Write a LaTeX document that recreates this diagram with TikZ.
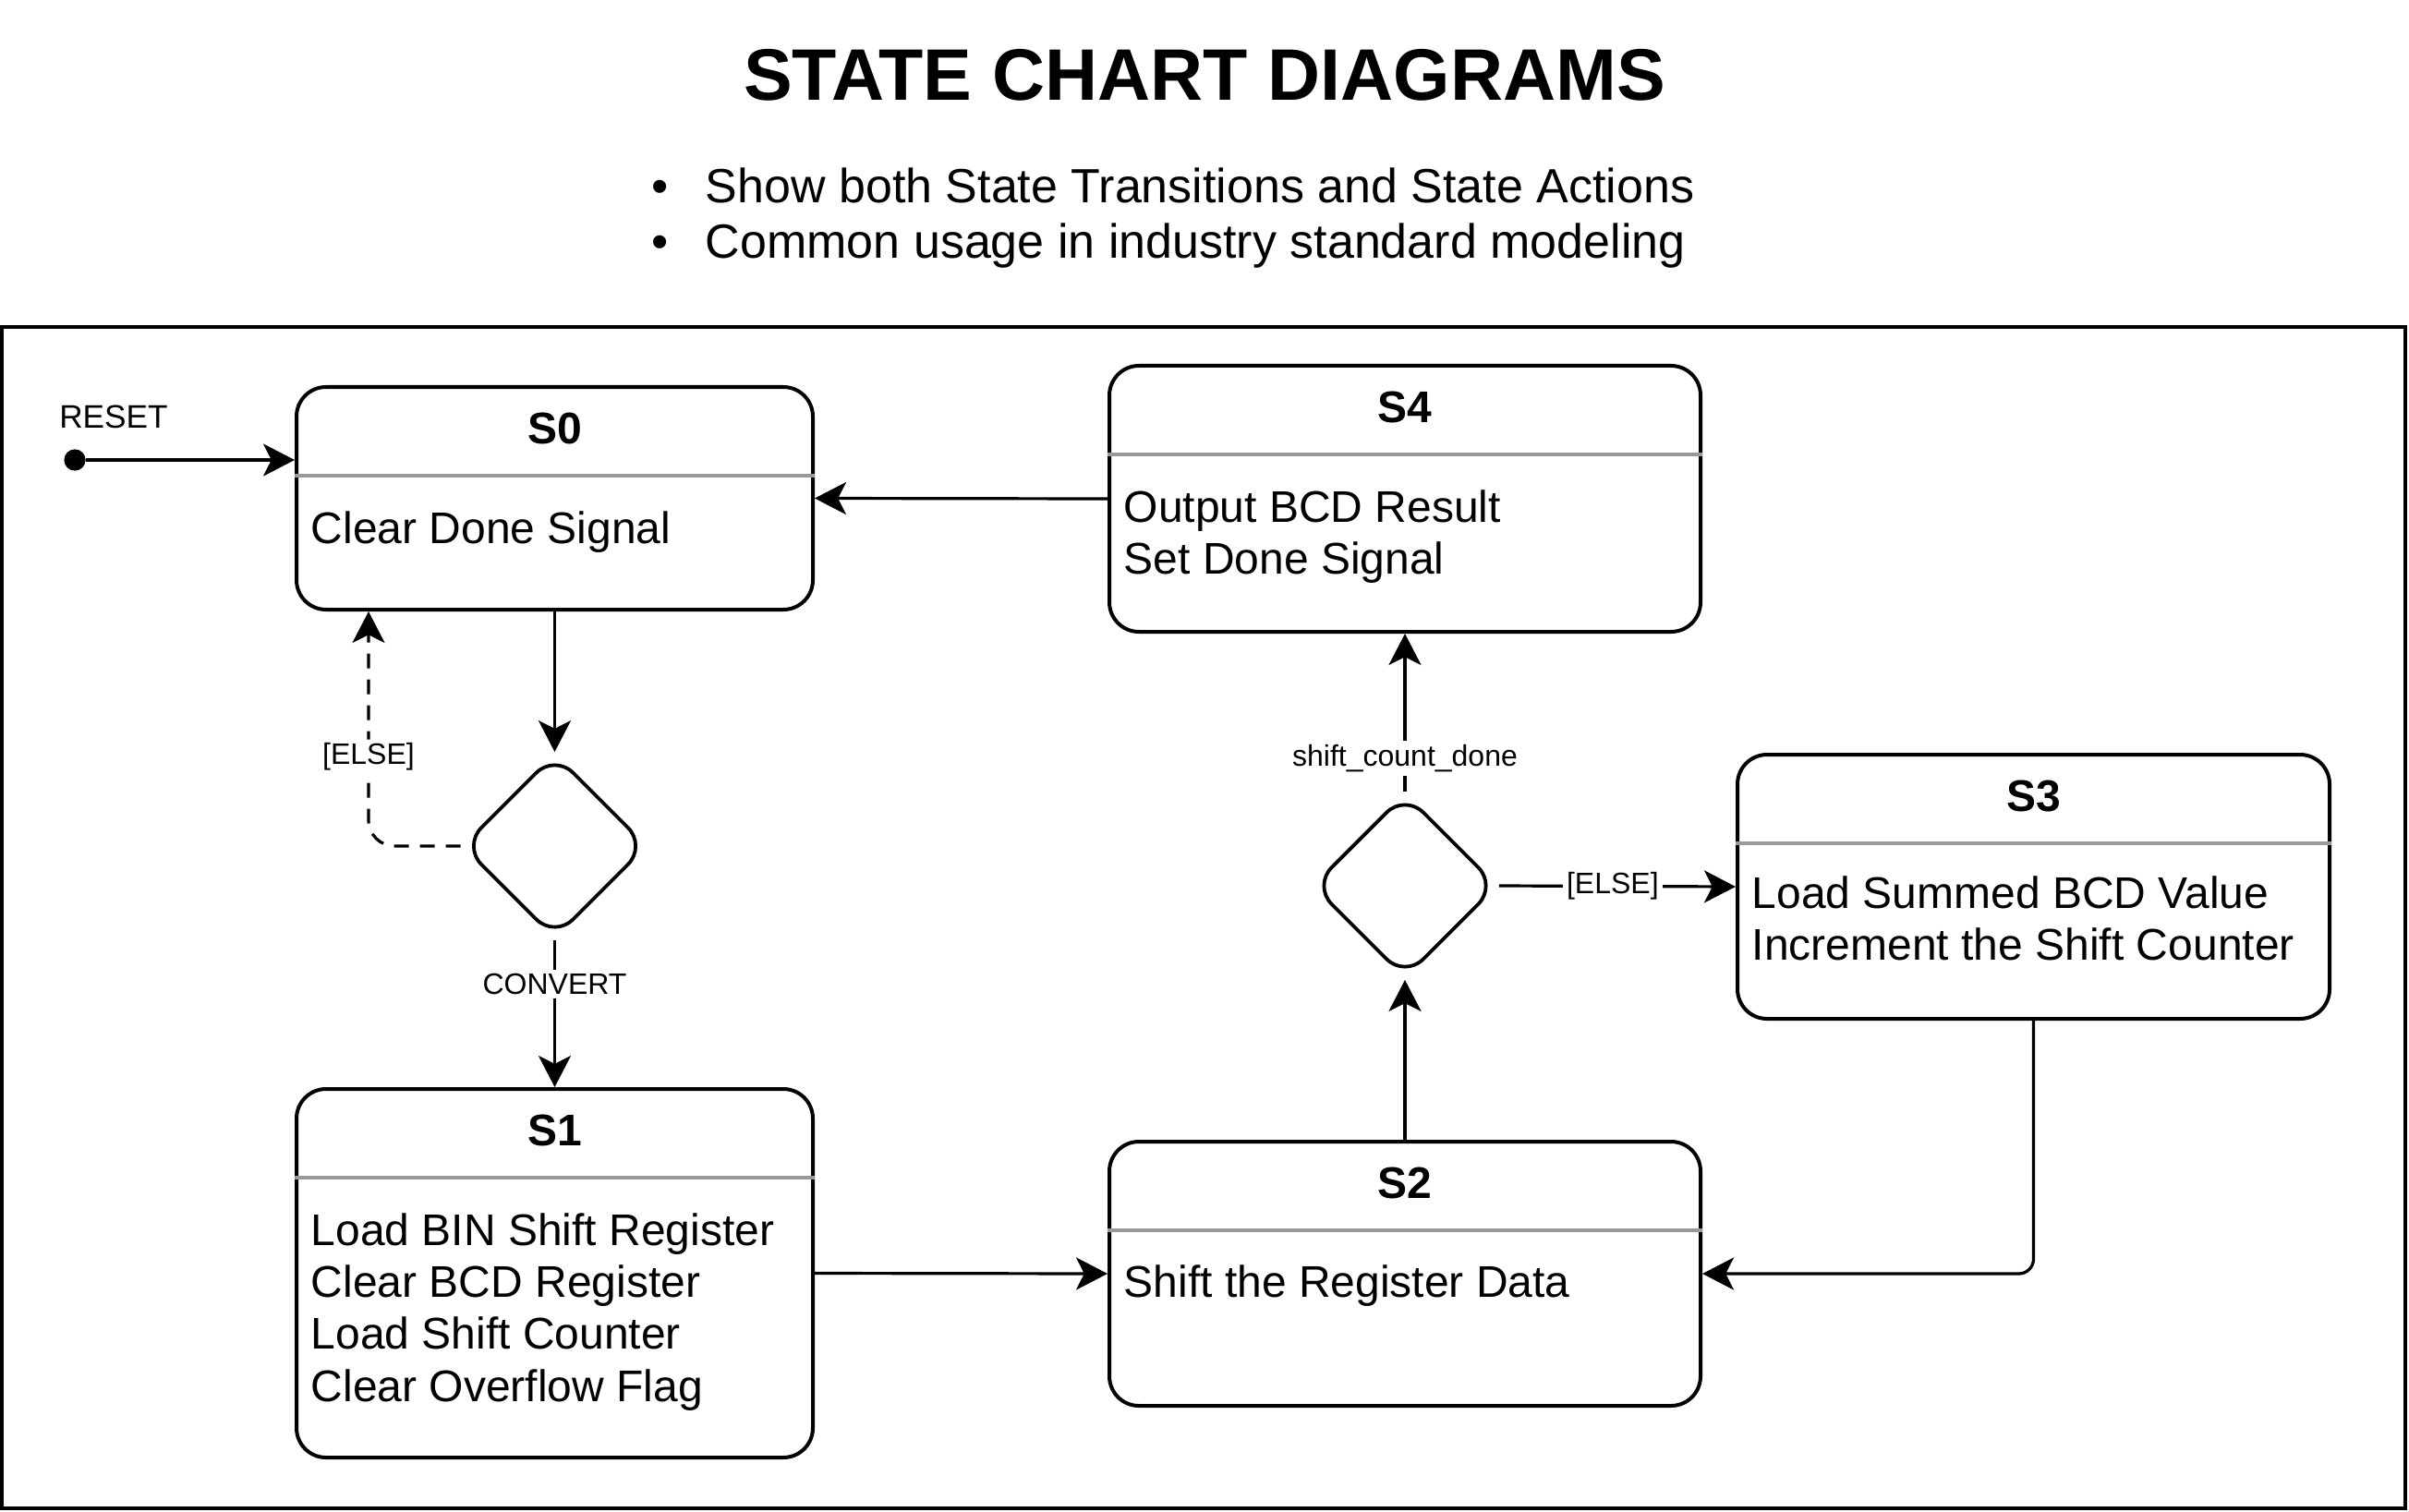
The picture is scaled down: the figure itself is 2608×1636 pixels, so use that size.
\documentclass[tikz,border=0pt]{standalone}
\usepackage{fontspec}
\setmainfont{Liberation Sans}
\usetikzlibrary{shapes.geometric,arrows.meta}
\definecolor{divgray}{RGB}{153,153,153}
\tikzset{
  statebox/.style={draw, line width=1pt, rounded corners=8pt, inner sep=0pt},
  stitle/.style={font=\bfseries\fontsize{12}{14}\selectfont, anchor=base, inner sep=0pt},
  sbody/.style={font=\fontsize{12}{14.08}\selectfont, anchor=north west, align=left, inner sep=0pt},
  divider/.style={line width=1pt, draw=divgray},
  decision/.style={diamond, draw, line width=0.95pt, minimum width=50pt, minimum height=50pt, inner sep=0pt, rounded corners=7pt},
  conn/.style={line width=0.8pt, -{Stealth[length=8.5pt,width=8.75pt,inset=2.2pt]}},
  lbl/.style={fill=white, font=\fontsize{8}{9.6}\selectfont, inner sep=1pt},
  bul/.style={font=\fontsize{13}{15.6}\selectfont, inner sep=0pt},
}
\begin{document}
\begin{tikzpicture}[x=0.25pt, y=-0.25pt]
\useasboundingbox (0,0) rectangle (2608,1636);
% heading
\node[font=\bfseries\fontsize{19.75}{23}\selectfont, anchor=base, inner sep=0pt] (title) at (1304,109) {STATE CHART DIAGRAMS};
\node[bul, anchor=base] (b1) at (715,220) {\textbullet};
\node[bul, anchor=base west] (b1t) at (763,220) {Show both State Transitions and State Actions};
\node[bul, anchor=base] (b2) at (715,280) {\textbullet};
\node[bul, anchor=base west] (b2t) at (763,280) {Common usage in industry standard modeling};
% frame
\draw[line width=1pt] (2,354) rectangle (2604,1633);
% states
\node[statebox, minimum width=139.75pt, minimum height=60.25pt] (S0) at (600.5,539.5) {};
\node[statebox, minimum width=160pt, minimum height=72pt] (S4) at (1521,540) {};
\node[statebox, minimum width=160.25pt, minimum height=71.5pt] (S3) at (2201.5,960) {};
\node[statebox, minimum width=139.75pt, minimum height=99.75pt] (S1) at (600.5,1378.5) {};
\node[statebox, minimum width=160pt, minimum height=71.5pt] (S2) at (1521,1379) {};
\foreach \s in {S0,S1,S2,S3,S4}{
  \draw[divider] ([yshift=-24.5pt]\s.north west) -- ([yshift=-24.5pt]\s.north east);
  \node[stitle] (\s t) at ([yshift=-15.9pt]\s.north) {\s};
}
\node[sbody] (S0b) at ([xshift=4.25pt,yshift=-33.1pt]S0.north west) {\rule{0pt}{9.5pt}Clear Done Signal};
\node[sbody] (S4b) at ([xshift=4.25pt,yshift=-33.1pt]S4.north west) {\rule{0pt}{9.5pt}Output BCD Result\\Set Done Signal};
\node[sbody] (S3b) at ([xshift=4.25pt,yshift=-32.4pt]S3.north west) {\rule{0pt}{9.5pt}Load Summed BCD Value\\Increment the Shift Counter};
\node[sbody] (S1b) at ([xshift=4.25pt,yshift=-33.1pt]S1.north west) {\rule{0pt}{9.5pt}Load BIN Shift Register\\Clear BCD Register\\Load Shift Counter\\Clear Overflow Flag};
\node[sbody] (S2b) at ([xshift=4.25pt,yshift=-32.9pt]S2.north west) {\rule{0pt}{9.5pt}Shift the Register Data};
% decisions
\node[decision] (d1) at (600.5,916) {};
\node[decision] (d2) at (1521,959) {};
% initial
\node[circle, fill, minimum size=5.8pt, inner sep=0pt] (init) at (81,498) {};
\node[font=\fontsize{8.8}{10}\selectfont, inner sep=0pt] (reset) at (123,451) {RESET};
\coordinate (elseend) at ([xshift=20pt]S0.south west);
% connectors
\draw[conn] (init) -- (init -| S0.west);
\draw[conn] (S4.west) -- (S0.east);
\draw[conn] (S0.south) -- (d1.north);
\draw[conn, dash pattern=on 4pt off 3pt, rounded corners=7pt] (d1.west) -| (elseend) node[lbl, pos=0.69] (l1) {[ELSE]};
\draw[conn] (d1.south) -- (S1.north) node[lbl, pos=0.3] (l2) {CONVERT};
\draw[conn] (S1.east) -- (S2.west);
\draw[conn] (S2.north) -- (d2.south);
\draw[conn] (d2.north) -- (S4.south) node[lbl, pos=0.21] (l3) {shift\_count\_done};
\draw[conn] (d2.east) -- (S3.west) node[lbl, pos=0.48] (l4) {[ELSE]};
\draw[conn, rounded corners=4pt] (S3.south) |- (S2.east);
\end{tikzpicture}
\end{document}
